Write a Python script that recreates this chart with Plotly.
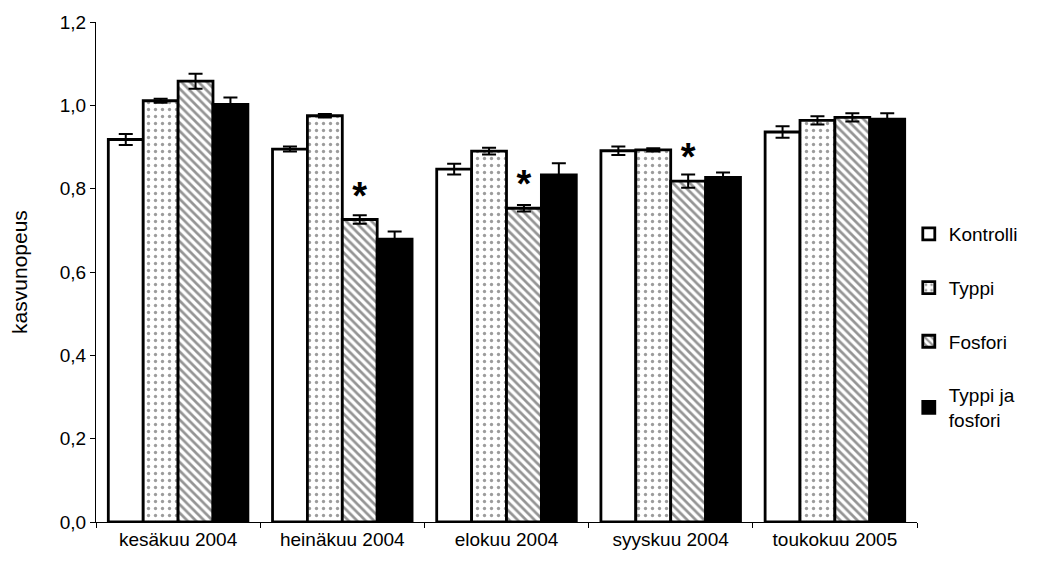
import plotly.graph_objects as go

months = ['kesäkuu 2004', 'heinäkuu 2004', 'elokuu 2004', 'syyskuu 2004', 'toukokuu 2005']

kontrolli = [0.918, 0.895, 0.847, 0.891, 0.936]
kontrolli_err = [0.013, 0.006, 0.013, 0.010, 0.014]
typpi = [1.011, 0.975, 0.890, 0.893, 0.964]
typpi_err = [0.005, 0.004, 0.008, 0.004, 0.010]
fosfori = [1.058, 0.726, 0.753, 0.818, 0.971]
fosfori_err = [0.018, 0.010, 0.008, 0.016, 0.010]
tjf = [1.002, 0.679, 0.833, 0.827, 0.967]
tjf_err = [0.017, 0.018, 0.028, 0.012, 0.014]
fosfori_sig = ['', '*', '*', '*', '']

font = 'Liberation Sans, Arial, sans-serif'


def bar(name, y, err, color, shape='', fg='black', size=6, solidity=0.3, text=None):
    return go.Bar(
        name=name, x=months, y=y,
        marker=dict(color=color, line=dict(color='black', width=2.8),
                    pattern=dict(shape=shape, fgcolor=fg, bgcolor=color if shape else None,
                                 size=size, solidity=solidity, fillmode='overlay')),
        error_y=dict(type='data', array=err, color='black', thickness=2, width=7),
        text=text, textposition='outside' if text else None,
        texttemplate='<b>%{text}</b>' if text else None,
        textfont=dict(size=38, color='black', family=font),
        cliponaxis=False,
        legendgroup=name,
    )


fig = go.Figure()
fig.add_trace(bar('Kontrolli', kontrolli, kontrolli_err, 'white'))
fig.add_trace(bar('Typpi', typpi, typpi_err, 'white', shape='.', fg='#3a3a3a', size=7, solidity=0.18))
fig.add_trace(bar('Fosfori', fosfori, fosfori_err, 'white', shape='\\', fg='#2a2a2a', size=6,
                  solidity=0.45, text=fosfori_sig))
fig.add_trace(bar('Typpi ja<br>fosfori', tjf, tjf_err, 'black'))

fig.update_layout(
    width=1029, height=557,
    barmode='group', bargap=0.15, bargroupgap=0,
    separators=', ',
    plot_bgcolor='white', paper_bgcolor='white',
    font=dict(family=font, size=19, color='black'),
    margin=dict(l=88, r=120, t=14, b=43, autoexpand=False),
    uniformtext=dict(minsize=30, mode='show'),
    legend=dict(x=0.99, xanchor='left', y=0.39, yanchor='middle',
                tracegroupgap=26, font=dict(size=19), itemwidth=30),
    showlegend=True,
)
fig.update_xaxes(showline=True, linecolor='black', linewidth=1, ticks='outside',
                 tickson='boundaries', ticklen=5, tickcolor='black', showgrid=False,
                 automargin=False)
fig.update_yaxes(range=[0, 1.2], dtick=0.2, tickformat='.1f', showline=True,
                 linecolor='black', linewidth=1, ticks='outside', ticklen=5,
                 tickcolor='black', showgrid=False, zeroline=False, automargin=False,
                 title=dict(text='kasvunopeus', standoff=26, font=dict(size=21)))

fig.write_html('out.html')
